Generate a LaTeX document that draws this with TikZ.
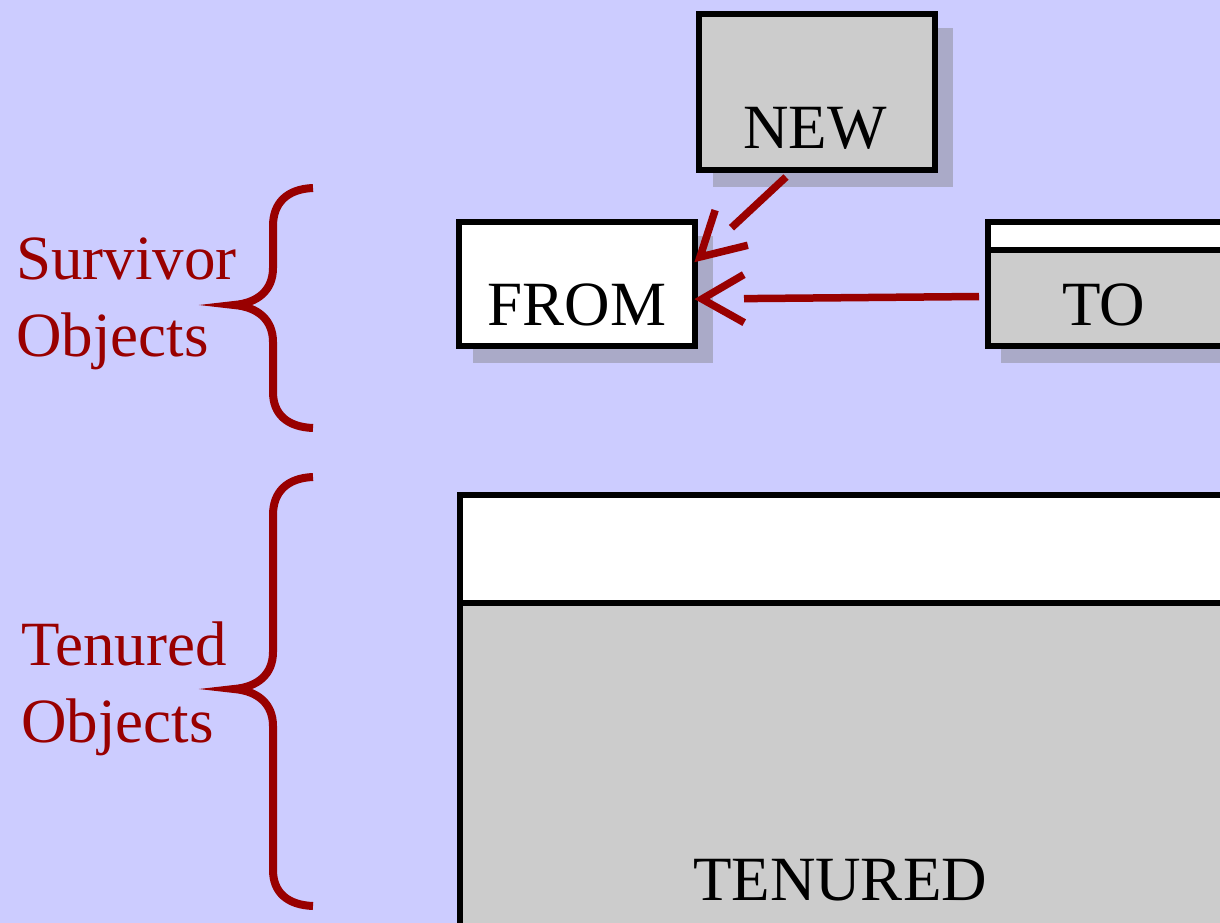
\documentclass[tikz,border=0pt]{standalone}
\usepackage{fontspec}
\setmainfont{Liberation Serif}
\usetikzlibrary{calc}
\definecolor{bgc}{RGB}{204,204,255}
\definecolor{boxgray}{RGB}{204,204,204}
\definecolor{shadowc}{RGB}{170,170,200}
\definecolor{darkred}{RGB}{153,0,0}
\tikzset{
  box/.style={draw=black, line width=6pt, inner sep=0pt, outer sep=0pt},
  lbl/.style={font=\fontsize{63}{77}\selectfont, inner sep=0pt},
  redlbl/.style={font=\fontsize{63}{77}\selectfont, text=darkred, align=left, anchor=north west, inner sep=0pt},
  bracec/.style={draw=darkred, line width=8pt},
  redline/.style={draw=darkred, line width=7.5pt},
}
\begin{document}
\begin{tikzpicture}[x=1pt,y=-1pt]
\fill[bgc] (0,0) rectangle (1220,923);
\useasboundingbox (0,0) rectangle (1220,923);
% shadows
\fill[shadowc] (713,28) rectangle (953,187);
\fill[shadowc] (473,236) rectangle (713,363);
\fill[shadowc] (1001,236) rectangle (1240,363);
% NEW
\node[box, fill=boxgray, minimum width=236pt, minimum height=156pt] (new) at (817,92) {};
\node[lbl] (newt) at (815,128) {NEW};
% FROM
\node[box, fill=white, minimum width=236pt, minimum height=124pt] (from) at (577,284) {};
\node[lbl] (fromt) at (577,305) {FROM};
% TO
\node[box, fill=boxgray, minimum width=240pt, minimum height=124pt] (to) at (1108,284) {};
\fill[white] (991,225) rectangle (1230,250);
\draw[line width=6pt] (988,250) -- (1230,250);
\node[lbl] (tot) at (1104,305) {TO};
% TENURED
\node[box, fill=boxgray, minimum width=780pt, minimum height=440pt] (ten) at (850,715) {};
\fill[white] (463,498) rectangle (1240,603);
\draw[line width=6pt] (460,603) -- (1240,603);
\node[lbl] (tent) at (840,880) {TENURED};
% arrows
\coordinate (s1) at (786,177);
\coordinate (t1) at (700,257);
\coordinate (b1) at ($(t1)!43pt!(s1)$);
\draw[redline] (s1) -- (b1);
\draw[redline] ($(b1)!24pt!90:(t1)$) -- (t1) -- ($(b1)!24pt!-90:(t1)$);
\coordinate (s2) at (979,296.5);
\coordinate (t2) at (702,299);
\coordinate (b2) at ($(t2)!42pt!(s2)$);
\draw[redline] (s2) -- (b2);
\draw[redline] ($(b2)!24pt!90:(t2)$) -- (t2) -- ($(b2)!24pt!-90:(t2)$);
% braces
\draw[bracec] (313,188) .. controls (287,189) and (273,203) .. (273,226) -- (273,268)
  .. controls (273,290) and (258,303) .. (234,305)
  .. controls (258,307) and (273,320) .. (273,342) -- (273,392)
  .. controls (273,414) and (287,427) .. (313,428);
\draw[bracec] (313,477) .. controls (287,478) and (273,492) .. (273,515) -- (273,652)
  .. controls (273,674) and (258,687) .. (234,689)
  .. controls (258,691) and (273,704) .. (273,726) -- (273,870)
  .. controls (273,892) and (287,905) .. (313,906);
% labels
\node[redlbl] (surv) at (16,238) {Survivor\\Objects};
\node[redlbl] (tenl) at (21,622) {Tenured\\Objects};
\end{tikzpicture}
\end{document}
